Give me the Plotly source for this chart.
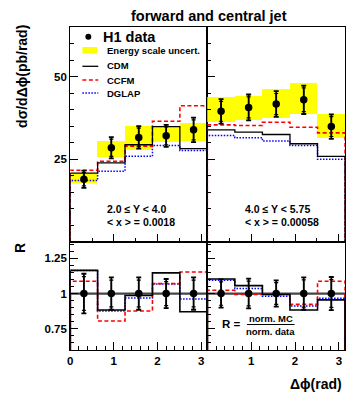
import numpy as np
import plotly.graph_objects as go

W, H = 356, 404          # browser window
OFF = 8                  # default page body margin
FW, FH = W - OFF, H - OFF
PI = np.pi
N_BINS = 5
edges = np.linspace(0, PI, N_BINS + 1)
centers = 0.5 * (edges[:-1] + edges[1:])
bin_w = PI / N_BINS

# ---------------- data: 2.0 <= Y < 4.0 ----------------
data_a = [19.0, 28.5, 31.6, 32.1, 33.9]
err_a = [2.6, 3.2, 3.4, 3.3, 3.7]
err_a_in = [2.0, 2.6, 2.8, 2.7, 3.0]
band_a_low = [17.7, 25.6, 27.9, 30.3, 30.4]
band_a_high = [20.6, 30.4, 35.2, 35.1, 35.9]
cdm_a = [20.8, 23.9, 29.4, 34.9, 28.2]
ccfm_a = [21.7, 24.4, 29.0, 36.5, 41.2]
dglap_a = [18.6, 21.4, 25.9, 29.2, 27.7]

# ---------------- data: 4.0 <= Y < 5.75 ----------------
data_b = [39.5, 40.7, 41.7, 43.0, 34.9]
err_b = [3.7, 3.9, 3.9, 4.3, 3.7]
err_b_in = [3.0, 3.2, 3.2, 3.6, 3.0]
band_b_low = [36.2, 36.9, 37.5, 38.7, 31.4]
band_b_high = [43.7, 44.2, 46.2, 48.0, 38.7]
cdm_b = [33.9, 33.2, 32.5, 29.7, 25.9]
ccfm_b = [35.4, 35.2, 36.2, 34.7, 33.0]
dglap_b = [32.2, 31.5, 30.5, 29.2, 25.0]

# ---------------- ratios R = norm. MC / norm. data ----------------
r_data = [1.0, 1.0, 1.0, 1.0, 1.0]
r_err_a = [0.14, 0.115, 0.115, 0.103, 0.115]
r_err_a_in = [0.12, 0.095, 0.095, 0.085, 0.095]
r_cdm_a = [1.164, 0.883, 0.986, 1.146, 0.871]
r_ccfm_a = [1.087, 0.805, 0.876, 1.070, 1.153]
r_dglap_a = [1.164, 0.876, 0.969, 1.068, 0.962]

r_err_b = [0.100, 0.105, 0.093, 0.115, 0.117]
r_err_b_in = [0.083, 0.088, 0.077, 0.097, 0.098]
r_cdm_b = [1.103, 1.056, 0.993, 0.883, 0.955]
r_ccfm_b = [1.023, 0.993, 0.993, 0.923, 1.087]
r_dglap_b = [1.094, 1.035, 0.981, 0.911, 0.967]

x_ticks_left = [0, 1, 2, 3]
x_ticks_right = [1, 2, 3]
y_ticks_top = [25, 50]
y_ticks_bot = [0.75, 1.0, 1.25]
y_ticktext_bot = ["0.75", "1", "1.25"]

RED = "#ff0000"
BLUE = "#0000ff"
YELLOW = "#ffff00"
FONT = "Liberation Sans, Arial, Helvetica, sans-serif"
DOT = "1.5px,1.5px"
DASH = "4px,2.5px"


def X(px):
    return (px - OFF) / FW


def Y(py):
    return 1 - (py - OFF) / FH


def step_xy(vals):
    x = [0.0] + list(edges[:-1]) + [PI, PI]
    y = [0.0] + list(vals) + [vals[-1], 0.0]
    return x, y


fig = go.Figure()

panels = [
    ("x", "y", band_a_low, band_a_high, cdm_a, ccfm_a, dglap_a, data_a, err_a, err_a_in, False),
    ("x2", "y2", band_b_low, band_b_high, cdm_b, ccfm_b, dglap_b, data_b, err_b, err_b_in, False),
    ("x3", "y3", None, None, r_cdm_a, r_ccfm_a, r_dglap_a, r_data, r_err_a, r_err_a_in, True),
    ("x4", "y4", None, None, r_cdm_b, r_ccfm_b, r_dglap_b, r_data, r_err_b, r_err_b_in, True),
]

for xa, ya, blo, bhi, cdm, ccfm, dglap, dat, err, err_in, ratio in panels:
    if blo is not None:
        fig.add_trace(go.Bar(
            x=centers, y=[h - l for h, l in zip(bhi, blo)], base=blo, width=bin_w,
            marker=dict(color=YELLOW, line=dict(width=0)),
            xaxis=xa, yaxis=ya, showlegend=False, hoverinfo="skip"))
    if ratio:
        sx, sy = step_xy(dat)
        fig.add_trace(go.Scatter(x=sx, y=sy, mode="lines", line_shape="hv",
                                 line=dict(color="#444444", width=2.2),
                                 xaxis=xa, yaxis=ya, showlegend=False))
    sx, sy = step_xy(dglap)
    fig.add_trace(go.Scatter(x=sx, y=sy, mode="lines", line_shape="hv",
                             line=dict(color=BLUE, width=1.5, dash=DOT),
                             xaxis=xa, yaxis=ya, showlegend=False))
    sx, sy = step_xy(ccfm)
    fig.add_trace(go.Scatter(x=sx, y=sy, mode="lines", line_shape="hv",
                             line=dict(color=RED, width=1.6, dash=DASH),
                             xaxis=xa, yaxis=ya, showlegend=False))
    sx, sy = step_xy(cdm)
    fig.add_trace(go.Scatter(x=sx, y=sy, mode="lines", line_shape="hv",
                             line=dict(color="black", width=1.6 if ratio else 1.3),
                             xaxis=xa, yaxis=ya, showlegend=False))
    fig.add_trace(go.Scatter(x=centers, y=dat, mode="markers",
                             marker=dict(color="black", size=7.5, symbol="circle"),
                             error_y=dict(type="data", array=err, color="black",
                                          thickness=1.8, width=2.5),
                             xaxis=xa, yaxis=ya, showlegend=False))
    fig.add_trace(go.Scatter(x=centers, y=dat, mode="markers",
                             marker=dict(color="black", size=1, opacity=0),
                             error_y=dict(type="data", array=err_in, color="black",
                                          thickness=1.2, width=2),
                             xaxis=xa, yaxis=ya, showlegend=False))

# domains (pixel positions of the reference frames)
xl = [X(67.7), X(206)]
xr = [X(206), X(345)]
yt = [Y(242), Y(27)]
yb = [Y(350), Y(242)]

tickfont = dict(family=FONT, size=11.5, color="black", weight="bold")
common_ax = dict(showline=True, linecolor="black", linewidth=1, mirror=True,
                 showgrid=False, zeroline=False, ticks="inside", tickcolor="black",
                 tickwidth=1, tickfont=tickfont)


def minor(d):
    return dict(dtick=d, tick0=0, ticklen=4, ticks="inside", tickcolor="black")


fig.update_layout(
    width=FW, height=FH,
    margin=dict(l=0, r=0, t=0, b=0),
    paper_bgcolor="white", plot_bgcolor="white",
    bargap=0, barmode="overlay",
    font=dict(family=FONT, color="black"),
    xaxis=dict(domain=xl, range=[0, PI], anchor="y", showticklabels=False,
               tickmode="array", tickvals=x_ticks_left, ticklen=8, minor=minor(0.5), **common_ax),
    yaxis=dict(domain=yt, range=[0, 65], anchor="x", tickmode="array", tickvals=y_ticks_top,
               ticklen=8, minor=minor(5), **common_ax),
    xaxis2=dict(domain=xr, range=[0, PI], anchor="y2", showticklabels=False,
                tickmode="array", tickvals=x_ticks_left, ticklen=8, minor=minor(0.5), **common_ax),
    yaxis2=dict(domain=yt, range=[0, 65], anchor="x2", showticklabels=False,
                tickmode="array", tickvals=y_ticks_top, ticklen=8, minor=minor(5), **common_ax),
    xaxis3=dict(domain=xl, range=[0, PI], anchor="y3",
                tickmode="array", tickvals=x_ticks_left, ticklen=8, minor=minor(0.2), **common_ax),
    yaxis3=dict(domain=yb, range=[0.6, 1.365], anchor="x3",
                tickmode="array", tickvals=y_ticks_bot, ticktext=y_ticktext_bot, ticklen=8,
                minor=minor(0.05), **common_ax),
    xaxis4=dict(domain=xr, range=[0, PI], anchor="y4",
                tickmode="array", tickvals=x_ticks_right, ticklen=8, minor=minor(0.2), **common_ax),
    yaxis4=dict(domain=yb, range=[0.6, 1.365], anchor="x4", showticklabels=False,
                tickmode="array", tickvals=y_ticks_bot, ticklen=8, minor=minor(0.05), **common_ax),
)

ann = []


def text(x, y, s, size, xanchor="left", yanchor="middle", angle=0, bold=True):
    ann.append(dict(x=X(x), y=Y(y), xref="paper", yref="paper", text=s, showarrow=False,
                    xanchor=xanchor, yanchor=yanchor, textangle=angle,
                    font=dict(family=FONT, size=size, color="black",
                              weight="bold" if bold else "normal")))


text(207.5, 16, "forward and central jet", 14.5, xanchor="center")
text(19, 76, "dσ/dΔϕ(pb/rad)", 14, xanchor="center", angle=-90)
text(17, 248, "R", 14, xanchor="center", angle=-90)
text(344, 384, "Δϕ(rad)", 14, xanchor="right")

# legend
text(99, 37, "H1 data", 14.5)
text(102.5, 51, "Energy scale uncert.", 9.5)
text(102.5, 66, "CDM", 9.5)
text(102.5, 80, "CCFM", 9.5)
text(102.5, 93, "DGLAP", 9.5)

# bin labels
text(103, 209, "2.0 ≤ Y < 4.0", 10.5)
text(103, 222, "< x > = 0.0018", 10.5)
text(242, 209, "4.0 ≤ Y < 5.75", 10.5)
text(242, 222, "< x > = 0.00058", 10.5)

# ratio definition
text(242, 324, "R =", 11.5, xanchor="right")
text(270, 318, "norm. MC", 9.5, xanchor="center")
text(270, 331, "norm. data", 9.5, xanchor="center")

shapes = [
    dict(type="circle", xref="paper", yref="paper", x0=X(83), x1=X(89), y0=Y(39.7), y1=Y(33.7),
         fillcolor="black", line=dict(width=0)),
    dict(type="rect", xref="paper", yref="paper", x0=X(80), x1=X(95), y0=Y(53.5), y1=Y(47),
         fillcolor=YELLOW, line=dict(width=0)),
    dict(type="line", xref="paper", yref="paper", x0=X(80), x1=X(96), y0=Y(66.3), y1=Y(66.3),
         line=dict(color="black", width=1.3)),
    dict(type="line", xref="paper", yref="paper", x0=X(80), x1=X(96), y0=Y(80), y1=Y(80),
         line=dict(color=RED, width=1.6, dash=DASH)),
    dict(type="line", xref="paper", yref="paper", x0=X(80), x1=X(96), y0=Y(93), y1=Y(93),
         line=dict(color=BLUE, width=1.5, dash=DOT)),
    dict(type="line", xref="paper", yref="paper", x0=X(246), x1=X(294), y0=Y(324.5), y1=Y(324.5),
         line=dict(color="black", width=1)),
]

fig.update_layout(annotations=ann, shapes=shapes)
fig.write_html("out.html")
